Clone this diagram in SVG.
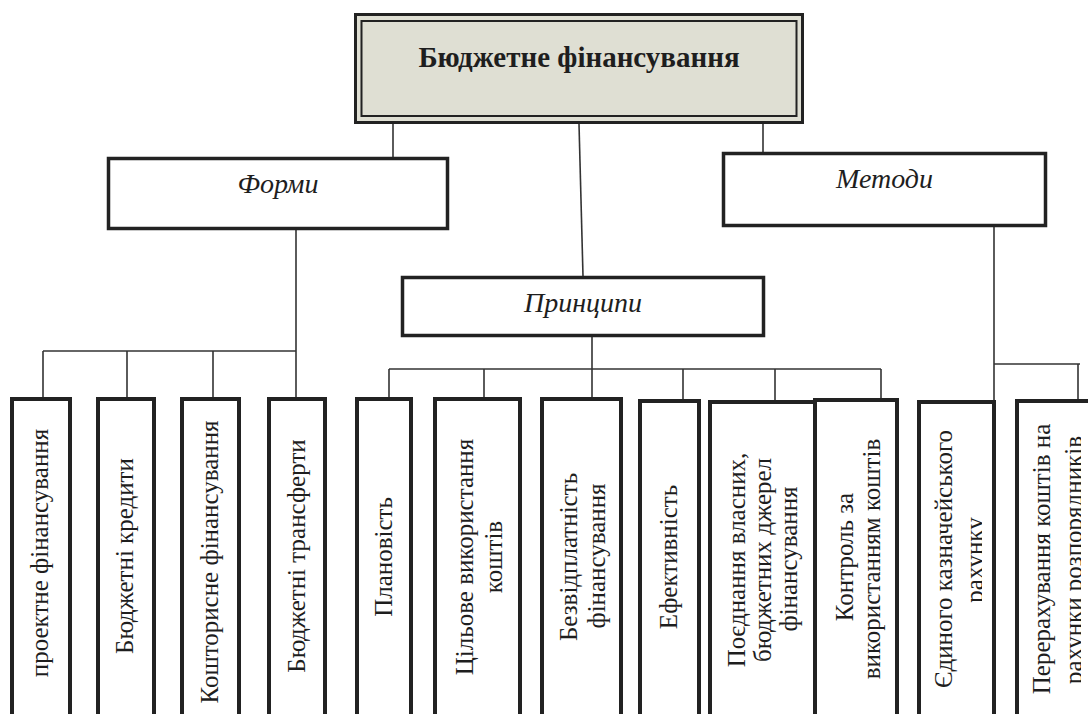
<svg xmlns="http://www.w3.org/2000/svg" width="1088" height="714" viewBox="0 0 1088 714">
<style>
.bg{fill:#ffffff}
.box{fill:#ffffff;stroke:#222222;stroke-width:4}
.mid{fill:#ffffff;stroke:#222222;stroke-width:3.5}
.conn line,.conn polyline{stroke:#333333;stroke-width:1.6;fill:none}
.title{font-family:"Liberation Serif","Times New Roman",serif;font-weight:bold;font-size:29px;fill:#1e1e1e;text-anchor:middle}
.it{font-family:"Liberation Serif","Times New Roman",serif;font-style:italic;font-size:28px;fill:#1e1e1e;text-anchor:middle}
.v{font-family:"Liberation Serif","Times New Roman",serif;font-size:25px;fill:#1e1e1e;text-anchor:middle}
</style>
<defs>
<clipPath id="c11" clipPathUnits="userSpaceOnUse"><rect x="900" y="390" width="82" height="330"/></clipPath>
<clipPath id="c12" clipPathUnits="userSpaceOnUse"><rect x="1000" y="390" width="81" height="330"/></clipPath>
</defs>
<rect class="bg" x="0" y="0" width="1088" height="714"/>

<g id="connectors" class="conn">
<line x1="393" y1="124" x2="393" y2="157"/>
<line x1="579" y1="124" x2="583" y2="276"/>
<line x1="763" y1="124" x2="763" y2="152"/>
<line x1="296" y1="229" x2="296" y2="398"/>
<line x1="43" y1="351" x2="296" y2="351"/>
<line x1="43" y1="351" x2="43" y2="398"/>
<line x1="127" y1="351" x2="127" y2="398"/>
<line x1="213" y1="351" x2="213" y2="398"/>
<line x1="592" y1="337" x2="592" y2="399"/>
<line x1="389" y1="369" x2="881" y2="369"/>
<line x1="389" y1="369" x2="389" y2="398"/>
<line x1="484" y1="369" x2="484" y2="398"/>
<line x1="683" y1="369" x2="683" y2="400"/>
<line x1="775" y1="369" x2="775" y2="400"/>
<line x1="881" y1="369" x2="881" y2="399"/>
<line x1="994" y1="227" x2="994" y2="401"/>
<line x1="994" y1="364" x2="1080" y2="364"/>
<line x1="1078" y1="364" x2="1078" y2="400"/>
</g>

<g id="node-root">
<rect x="355.5" y="14.5" width="447" height="108" fill="#dfdfd3" stroke="#222222" stroke-width="3"/>
<rect x="361.5" y="21" width="435" height="95" fill="none" stroke="#222222" stroke-width="2"/>
<text class="title" x="579" y="67">Бюджетне фінансування</text>
</g>

<g id="node-formy">
<rect class="mid" x="108.5" y="158.5" width="339" height="70"/>
<text class="it" x="278" y="193">Форми</text>
</g>
<g id="node-metody">
<rect class="mid" x="723.5" y="153.5" width="322" height="72"/>
<text class="it" x="884.5" y="188">Методи</text>
</g>
<g id="node-pryntsypy">
<rect class="mid" x="402.5" y="277.5" width="361" height="58"/>
<text class="it" x="583" y="312">Принципи</text>
</g>

<g id="node-f1">
<rect class="box" x="12" y="399" width="58" height="330"/>
<text class="v" transform="translate(48,553) rotate(-90)">проектне фінансування</text>
</g>
<g id="node-f2">
<rect class="box" x="98" y="399" width="56" height="330"/>
<text class="v" transform="translate(133,556) rotate(-90)">Бюджетні кредити</text>
</g>
<g id="node-f3">
<rect class="box" x="182" y="399" width="57" height="330"/>
<text class="v" transform="translate(218,562) rotate(-90)">Кошторисне фінансування</text>
</g>
<g id="node-f4">
<rect class="box" x="269" y="399" width="56" height="330"/>
<text class="v" transform="translate(305,556) rotate(-90)">Бюджетні трансферти</text>
</g>

<g id="node-p1">
<rect class="box" x="357" y="399" width="54" height="330"/>
<text class="v" transform="translate(392,557) rotate(-90)">Плановість</text>
</g>
<g id="node-p2">
<rect class="box" x="435" y="399" width="85" height="330"/>
<text class="v" transform="translate(473,557) rotate(-90)">Цільове використання</text>
<text class="v" transform="translate(502,557) rotate(-90)">коштів</text>
</g>
<g id="node-p3">
<rect class="box" x="542" y="399" width="79" height="330"/>
<text class="v" transform="translate(577,557) rotate(-90)">Безвідплатність</text>
<text class="v" transform="translate(605,556) rotate(-90)">фінансування</text>
</g>
<g id="node-p4">
<rect class="box" x="640" y="401" width="59" height="330"/>
<text class="v" transform="translate(677,557) rotate(-90)">Ефективність</text>
</g>
<g id="node-p5">
<rect class="box" x="710" y="402" width="105" height="330"/>
<text class="v" transform="translate(745,560) rotate(-90)">Поєднання власних,</text>
<text class="v" transform="translate(771,560) rotate(-90)">бюджетних джерел</text>
<text class="v" transform="translate(797,559) rotate(-90)">фінансування</text>
</g>
<g id="node-p6">
<rect class="box" x="815" y="400" width="82" height="330"/>
<text class="v" transform="translate(853,557) rotate(-90)">Контроль за</text>
<text class="v" transform="translate(880,559) rotate(-90)">використанням коштів</text>
</g>

<g id="node-m1">
<rect class="box" x="919" y="402" width="75" height="330"/>
<text class="v" transform="translate(952,559) rotate(-90)">Єдиного казначейського</text>
<g clip-path="url(#c11)">
<text class="v" transform="translate(983,560) rotate(-90)">рахунку</text>
</g>
</g>
<g id="node-m2">
<rect class="box" x="1017" y="401" width="90" height="330"/>
<text class="v" transform="translate(1050,559) rotate(-90)">Перерахування коштів на</text>
<g clip-path="url(#c12)">
<text class="v" transform="translate(1082,560) rotate(-90)">рахунки розпорядників</text>
</g>
</g>
</svg>
